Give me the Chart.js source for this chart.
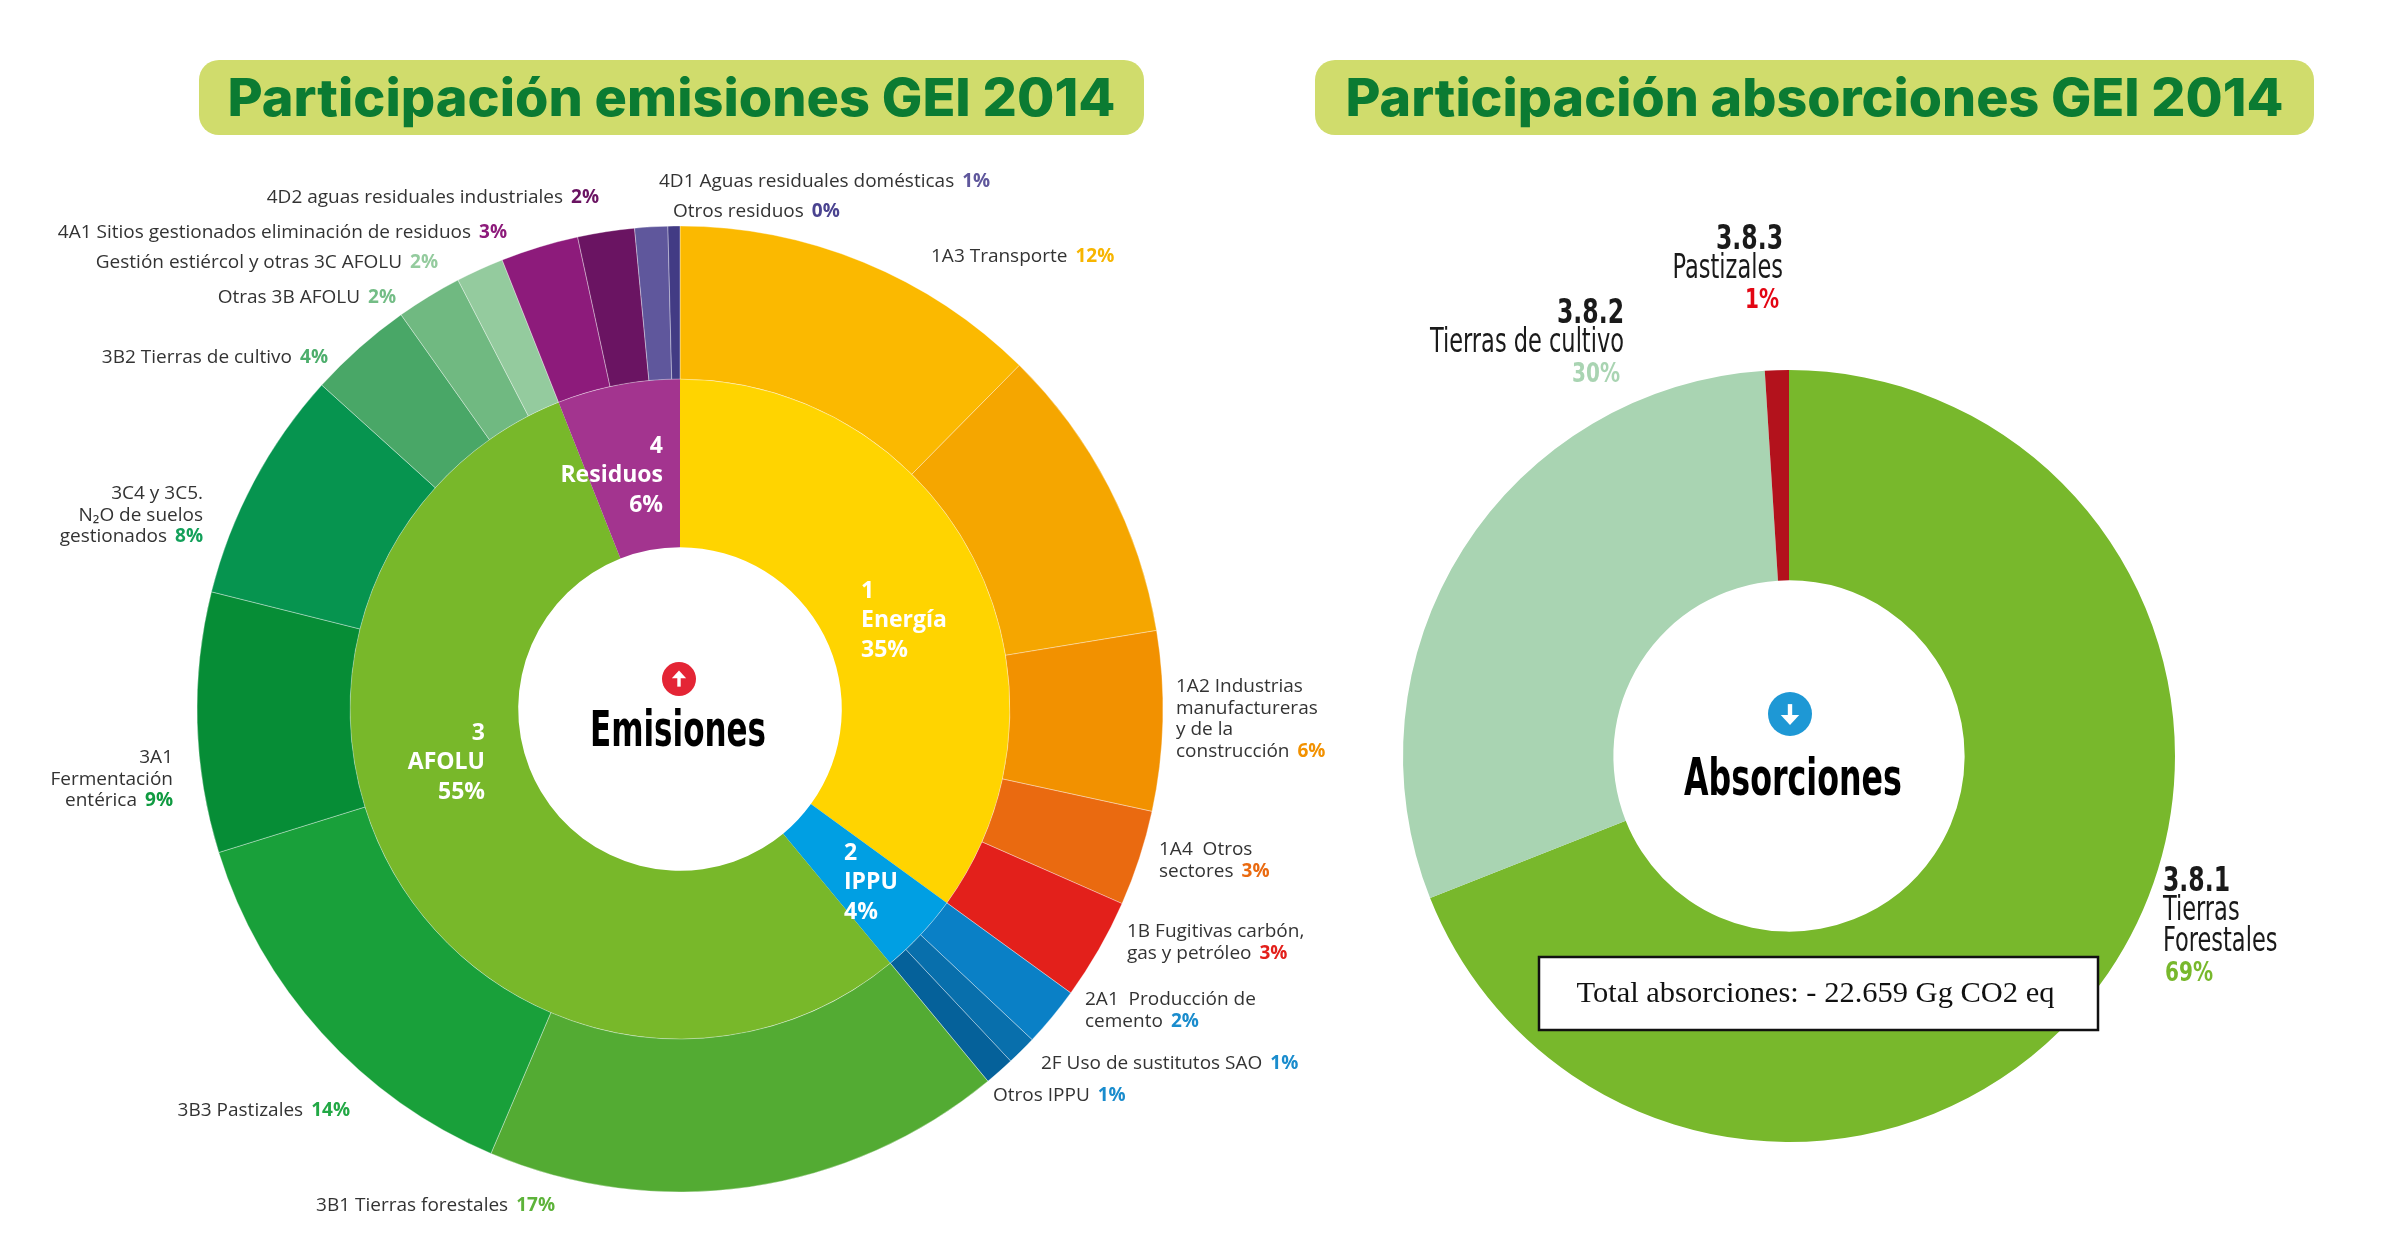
<!DOCTYPE html>
<html>
<head>
<meta charset="utf-8">
<script src="https://cdn.jsdelivr.net/npm/chart.js@4.4.1/dist/chart.umd.min.js"></script>
<style>
  html, body { margin: 0; padding: 0; background: #fff; }
  body { width: 2381px; height: 1255px; position: relative; overflow: hidden; }
  canvas { position: absolute; top: 0; }
  #emisiones { left: 0; }
  #absorciones { left: 1300px; }
</style>
</head>
<body>
<canvas id="emisiones" width="1400" height="1255"></canvas>
<canvas id="absorciones" width="1081" height="1255"></canvas>
<script>
// --- datos: emisiones por sector (anillo interior)
const sectores = ["1\nEnergía", "2\nIPPU", "3\nAFOLU", "4\nResiduos"];
const sectorShare = [35, 4, 55, 6];
const sectorColors = ["#ffd400", "#009fe3", "#78b82a", "#a3348f"];

// --- datos: emisiones por categoría (anillo exterior)
const categorias = [
  "1A3 Transporte",
  "",
  "1A2 Industrias\nmanufactureras\ny de la\nconstrucción",
  "1A4  Otros\nsectores",
  "1B Fugitivas carbón,\ngas y petróleo",
  "2A1  Producción de\ncemento",
  "2F Uso de sustitutos SAO",
  "Otros IPPU",
  "3B1 Tierras forestales",
  "3B3 Pastizales",
  "3A1\nFermentación\nentérica",
  "3C4 y 3C5.\nN₂O de suelos\ngestionados",
  "3B2 Tierras de cultivo",
  "Otras 3B AFOLU",
  "Gestión estiércol y otras 3C AFOLU",
  "4A1 Sitios gestionados eliminación de residuos",
  "4D2 aguas residuales industriales",
  "4D1 Aguas residuales domésticas",
  "Otros residuos"
];
const categoriaShare = [12.4, 10, 6, 3.2, 3.4, 2, 1, 1, 17.4, 13.8, 8.7, 7.8, 3.5, 2.2, 1.6, 2.6, 1.9, 1.1, 0.4];
const categoriaColors = [
  "#fbb900", "#f5a600", "#f29100", "#ea6a10", "#e3201b",
  "#0a80c6", "#086fac", "#05619a",
  "#53ab33", "#19a03a", "#068d36", "#06944f", "#49a767", "#70b981", "#94cb9e",
  "#8d1b7b", "#6a1462", "#5f579c", "#423b84"
];
const pctColors = [
  "#f7b500", "", "#f29100", "#ea6a10", "#e3201b",
  "#1a8ccd", "#1a8ccd", "#1a8ccd",
  "#5db33a", "#22a845", "#0f9a40", "#13a05a", "#4dae6c", "#74bd86", "#94cb9e",
  "#8d1b7b", "#6a1462", "#5f579c", "#4a4390"
];

// --- datos: absorciones
const absCategorias = ["3.8.1\nTierras\nForestales", "3.8.2\nTierras de cultivo", "3.8.3\nPastizales"];
const absShare = [69, 30, 1];
const absColors = ["#78b82c", "#a9d4b2", "#b3121c"];
const absPctColors = ["#78b82c", "#a9d4b2", "#e30613"];
const totalAbsorciones = "Total absorciones: - 22.659 Gg CO2 eq";

// --- posición de las etiquetas respecto al centro del anillo
const catLabelPos = [
  {dx: 251, dy: -452, align: "left"},
  null,
  {dx: 496, dy: -22, align: "left"},
  {dx: 479, dy: 141, align: "left"},
  {dx: 447, dy: 223, align: "left"},
  {dx: 405, dy: 291, align: "left"},
  {dx: 361, dy: 355, align: "left"},
  {dx: 313, dy: 387, align: "left"},
  {dx: -125, dy: 497, align: "right"},
  {dx: -330, dy: 402, align: "right"},
  {dx: -507, dy: 49, align: "right"},
  {dx: -477, dy: -215, align: "right"},
  {dx: -352, dy: -351, align: "right"},
  {dx: -284, dy: -411, align: "right"},
  {dx: -242, dy: -446, align: "right"},
  {dx: -173, dy: -476, align: "right"},
  {dx: -81, dy: -511, align: "right"},
  {dx: -21, dy: -527, align: "left"},
  {dx: -7, dy: -497, align: "left"}
];
const sectorLabelPos = [
  {dx: 181, dy: -118, align: "left"},
  {dx: 164, dy: 144, align: "left"},
  {dx: -195, dy: 24, align: "right"},
  {dx: -17, dy: -263, align: "right"}
];
const absLabelPos = [
  {dx: 374, dy: 126, align: "left"},
  {dx: -165, dy: -442, align: "right"},
  {dx: -6, dy: -516, align: "right"}
];

const pct = v => Math.round(v) + "%";

function fitText(ctx, text, x, y, width, align) {
  const w = ctx.measureText(text).width;
  ctx.save();
  ctx.translate(x, y);
  ctx.scale(width / w, 1);
  ctx.textAlign = align;
  ctx.fillText(text, 0, 0);
  ctx.restore();
}

function drawTitle(ctx, text, box, textW) {
  ctx.save();
  ctx.fillStyle = "#d0dc6c";
  ctx.beginPath();
  ctx.roundRect(box[0], box[1], box[2], box[3], 20);
  ctx.fill();
  ctx.fillStyle = "#0b7b32";
  ctx.font = "800 52px Inter, 'Open Sans', sans-serif";
  ctx.textBaseline = "alphabetic";
  fitText(ctx, text, box[0] + box[2] / 2, box[1] + 56, textW, "center");
  ctx.restore();
}

function drawIcon(ctx, x, y, r, color, up) {
  ctx.save();
  ctx.fillStyle = color;
  ctx.beginPath();
  ctx.arc(x, y, r, 0, Math.PI * 2);
  ctx.fill();
  ctx.strokeStyle = "#fff";
  ctx.fillStyle = "#fff";
  ctx.lineWidth = r * 0.2;
  const s = up ? -1 : 1;
  ctx.beginPath();
  ctx.moveTo(x, y - s * r * 0.45);
  ctx.lineTo(x, y + s * r * 0.2);
  ctx.stroke();
  ctx.beginPath();
  ctx.moveTo(x - r * 0.42, y + s * r * 0.05);
  ctx.lineTo(x + r * 0.42, y + s * r * 0.05);
  ctx.lineTo(x, y + s * r * 0.5);
  ctx.closePath();
  ctx.fill();
  ctx.restore();
}

const emisionesLabels = {
  id: "emisionesLabels",
  afterDraw(chart) {
    const ctx = chart.ctx;
    const arcs = chart.getDatasetMeta(0).data;
    const cx = arcs[0].x, cy = arcs[0].y;

    drawTitle(ctx, "Participación emisiones GEI 2014", [199, 60, 945, 75], 888);

    // etiquetas exteriores
    ctx.save();
    ctx.textBaseline = "middle";
    categorias.forEach((name, i) => {
      const p = catLabelPos[i];
      if (!p) return;
      const lines = name.split("\n");
      const y0 = cy + p.dy, x = cx + p.dx;
      lines.forEach((line, k) => {
        const y = y0 + k * 21.5;
        ctx.font = "19px 'Open Sans', sans-serif";
        ctx.fillStyle = "#333";
        const last = k === lines.length - 1;
        if (!last) {
          ctx.textAlign = p.align;
          ctx.fillText(line, x, y);
          return;
        }
        const tw = ctx.measureText(line).width;
        ctx.font = "bold 19px 'Open Sans', sans-serif";
        const ptxt = pct(categoriaShare[i]);
        const pw = ctx.measureText(ptxt).width;
        const gap = 8;
        let tx = p.align === "left" ? x : x - pw - gap - tw;
        ctx.textAlign = "left";
        ctx.font = "19px 'Open Sans', sans-serif";
        ctx.fillText(line, tx, y);
        ctx.font = "bold 19px 'Open Sans', sans-serif";
        ctx.fillStyle = pctColors[i];
        ctx.fillText(ptxt, tx + tw + gap, y);
      });
    });

    // etiquetas interiores
    ctx.fillStyle = "#fff";
    ctx.font = "bold 23px 'Open Sans', sans-serif";
    sectores.forEach((name, i) => {
      const p = sectorLabelPos[i];
      const lines = name.split("\n").concat(pct(sectorShare[i]));
      ctx.textAlign = p.align;
      lines.forEach((line, k) => ctx.fillText(line, cx + p.dx, cy + p.dy + k * 29.5));
    });
    ctx.restore();

    // centro
    drawIcon(ctx, cx - 1, cy - 30, 17, "#e42535", true);
    ctx.save();
    ctx.fillStyle = "#000";
    ctx.font = "bold 50px 'Liberation Sans Narrow', 'DejaVu Sans Condensed', sans-serif";
    ctx.textBaseline = "alphabetic";
    fitText(ctx, "Emisiones", cx - 2, cy + 37, 176, "center");
    ctx.restore();
  }
};

const absorcionesLabels = {
  id: "absorcionesLabels",
  afterDraw(chart) {
    const ctx = chart.ctx;
    const arcs = chart.getDatasetMeta(0).data;
    const cx = arcs[0].x, cy = arcs[0].y;

    drawTitle(ctx, "Participación absorciones GEI 2014", [cx - 474, 60, 999, 75], 938);

    const nameFont = "33px 'Liberation Sans Narrow', 'DejaVu Sans Condensed', sans-serif";
    const codeFont = "bold 33px 'Liberation Sans Narrow', 'DejaVu Sans Condensed', sans-serif";
    const pctFont = "bold 27px 'Liberation Sans Narrow', 'DejaVu Sans Condensed', sans-serif";
    ctx.save();
    ctx.font = nameFont;
    const sxName = 194 / ctx.measureText("Tierras de cultivo").width;
    ctx.font = codeFont;
    const sxCode = 67 / ctx.measureText("3.8.3").width;
    ctx.font = pctFont;
    const sxPct = 48 / ctx.measureText("30%").width;

    ctx.textBaseline = "middle";
    absCategorias.forEach((name, i) => {
      const p = absLabelPos[i];
      const lines = name.split("\n");
      const x = cx + p.dx;
      let y = cy + p.dy;
      lines.forEach((line, k) => {
        const isCode = k === 0;
        ctx.font = isCode ? codeFont : nameFont;
        ctx.fillStyle = "#1a1a1a";
        const sx = isCode ? sxCode : sxName;
        fitText(ctx, line, x, y, ctx.measureText(line).width * sx, p.align);
        y += isCode ? 29 : 31;
      });
      ctx.font = pctFont;
      ctx.fillStyle = absPctColors[i];
      const t = pct(absShare[i]);
      fitText(ctx, t, p.align === "right" ? x - 4 : x + 2, y + 1, ctx.measureText(t).width * sxPct, p.align);
    });
    ctx.restore();

    // centro
    drawIcon(ctx, cx + 1, cy - 42, 22, "#1e98d5", false);
    ctx.save();
    ctx.fillStyle = "#000";
    ctx.font = "bold 52px 'Liberation Sans Narrow', 'DejaVu Sans Condensed', sans-serif";
    ctx.textBaseline = "alphabetic";
    fitText(ctx, "Absorciones", cx + 4, cy + 39, 218, "center");
    ctx.restore();

    // total
    ctx.save();
    const bx = cx - 250, by = cy + 201, bw = 559, bh = 73;
    ctx.fillStyle = "#fff";
    ctx.fillRect(bx, by, bw, bh);
    ctx.strokeStyle = "#111";
    ctx.lineWidth = 2.5;
    ctx.strokeRect(bx, by, bw, bh);
    ctx.fillStyle = "#111";
    ctx.font = "29px 'Liberation Serif', 'DejaVu Serif', serif";
    ctx.textBaseline = "middle";
    fitText(ctx, totalAbsorciones, bx + bw / 2 - 3, by + bh / 2 + 1, 478, "center");
    ctx.restore();
  }
};

const commonOptions = {
  responsive: false,
  animation: false,
  devicePixelRatio: 1,
  events: [],
  plugins: {legend: {display: false}, tooltip: {enabled: false}}
};

new Chart(document.getElementById("emisiones"), {
  type: "doughnut",
  data: {
    labels: categorias,
    datasets: [
      {data: categoriaShare, backgroundColor: categoriaColors, borderColor: "rgba(255,255,255,0.35)", borderWidth: 1, weight: 153},
      {data: sectorShare, backgroundColor: sectorColors, borderWidth: 0, weight: 168}
    ]
  },
  options: Object.assign({}, commonOptions, {
    cutout: "33.5%",
    radius: 483,
    layout: {padding: {left: 198, right: 238, top: 200, bottom: 37}}
  }),
  plugins: [emisionesLabels]
});

new Chart(document.getElementById("absorciones"), {
  type: "doughnut",
  data: {
    labels: absCategorias,
    datasets: [{data: absShare, backgroundColor: absColors, borderWidth: 0}]
  },
  options: Object.assign({}, commonOptions, {
    cutout: "45.5%",
    radius: 386,
    layout: {padding: {left: 100, right: 203, top: 294, bottom: 37}}
  }),
  plugins: [absorcionesLabels]
});
</script>
</body>
</html>
